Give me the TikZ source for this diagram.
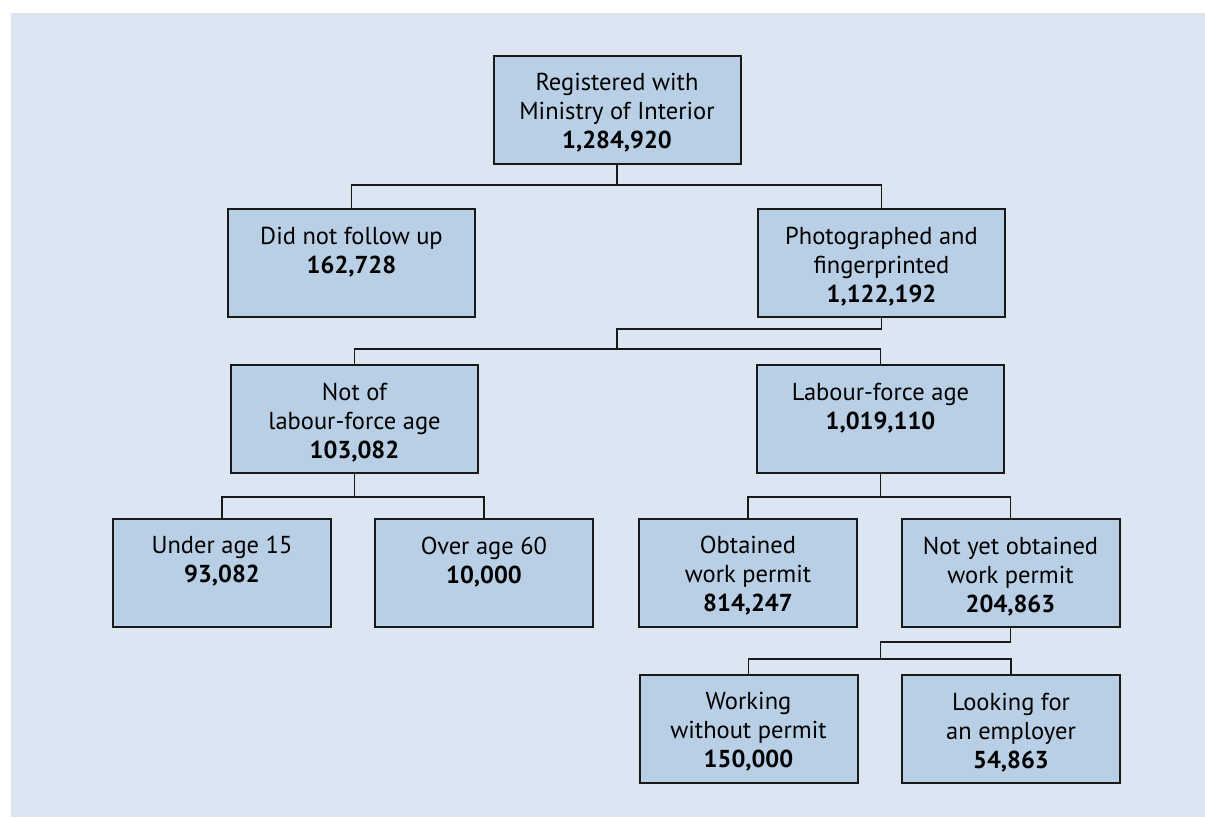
\documentclass[tikz,border=0pt]{standalone}
\usepackage{fontspec}
\setmainfont{PT Sans}
\usetikzlibrary{calc}
\definecolor{panel}{RGB}{220,230,242}
\definecolor{boxfill}{RGB}{185,207,229}
\definecolor{edge}{RGB}{25,25,25}
\newcommand{\boxtext}[2]{\parbox[c][108pt][t]{#1}{\centering\fontsize{24.5}{29}\selectfont\rule{0pt}{35pt}#2}}
\tikzset{
  bigbox/.style={draw=edge, fill=boxfill, line width=2pt, inner sep=0pt, minimum width=247pt, minimum height=108pt},
  smallbox/.style={bigbox, minimum width=218pt},
  conn/.style={draw=edge, line width=1.7pt}
}
\begin{document}
\begin{tikzpicture}[x=1pt, y=-1pt]
\useasboundingbox (0,0) rectangle (1205,817);
\fill[white] (0,0) rectangle (1205,817);
\fill[panel] (11,13) rectangle (1205,817);

\node[bigbox] (A) at (617,109.5) {\boxtext{247pt}{Registered with\\Ministry of Interior\\\textbf{1,284,920}}};
\node[bigbox] (B) at (351.5,263) {\boxtext{247pt}{Did not follow up\\\textbf{162,728}}};
\node[bigbox] (C) at (881.5,263) {\boxtext{247pt}{Photographed and\\fingerprinted\\\textbf{1,122,192}}};
\node[bigbox] (D) at (354.5,419) {\boxtext{247pt}{Not of\\labour-force age\\\textbf{103,082}}};
\node[bigbox] (E) at (880.5,419) {\boxtext{247pt}{Labour-force age\\\textbf{1,019,110}}};
\node[smallbox] (F) at (222,572.5) {\boxtext{218pt}{Under age 15\\\textbf{93,082}}};
\node[smallbox] (G) at (484,573) {\boxtext{218pt}{Over age 60\\\textbf{10,000}}};
\node[smallbox] (H) at (748,572.5) {\boxtext{218pt}{Obtained\\work permit\\\textbf{814,247}}};
\node[smallbox] (I) at (1010.5,573) {\boxtext{218pt}{Not yet obtained\\work permit\\\textbf{204,863}}};
\node[smallbox] (J) at (748.5,728.5) {\boxtext{218pt}{Working\\without permit\\\textbf{150,000}}};
\node[smallbox] (K) at (1011,729) {\boxtext{218pt}{Looking for\\an employer\\\textbf{54,863}}};

\coordinate (y1) at (0,185);
\coordinate (y2a) at (0,329);
\coordinate (y2b) at (0,349);
\coordinate (y3) at (0,497);
\coordinate (y4a) at (0,642);
\coordinate (y4b) at (0,659);

% A -> B, C
\draw[conn] (A.south) -- (A.south |- y1);
\draw[conn] (B.north) -- (B.north |- y1) -- (C.north |- y1) -- (C.north);
% C -> D, E
\draw[conn] (C.south) -- (C.south |- y2a) -- (A.south |- y2a) -- (A.south |- y2b);
\draw[conn] (D.north) -- (D.north |- y2b) -- (E.north |- y2b) -- (E.north);
% D -> F, G
\draw[conn] (D.south) -- (D.south |- y3);
\draw[conn] (F.north) -- (F.north |- y3) -- (G.north |- y3) -- (G.north);
% E -> H, I
\draw[conn] (E.south) -- (E.south |- y3);
\draw[conn] (H.north) -- (H.north |- y3) -- (I.north |- y3) -- (I.north);
% I -> J, K
\draw[conn] (I.south) -- (I.south |- y4a) -- (E.south |- y4a) -- (E.south |- y4b);
\draw[conn] (J.north) -- (J.north |- y4b) -- (K.north |- y4b) -- (K.north);
\end{tikzpicture}
\end{document}
